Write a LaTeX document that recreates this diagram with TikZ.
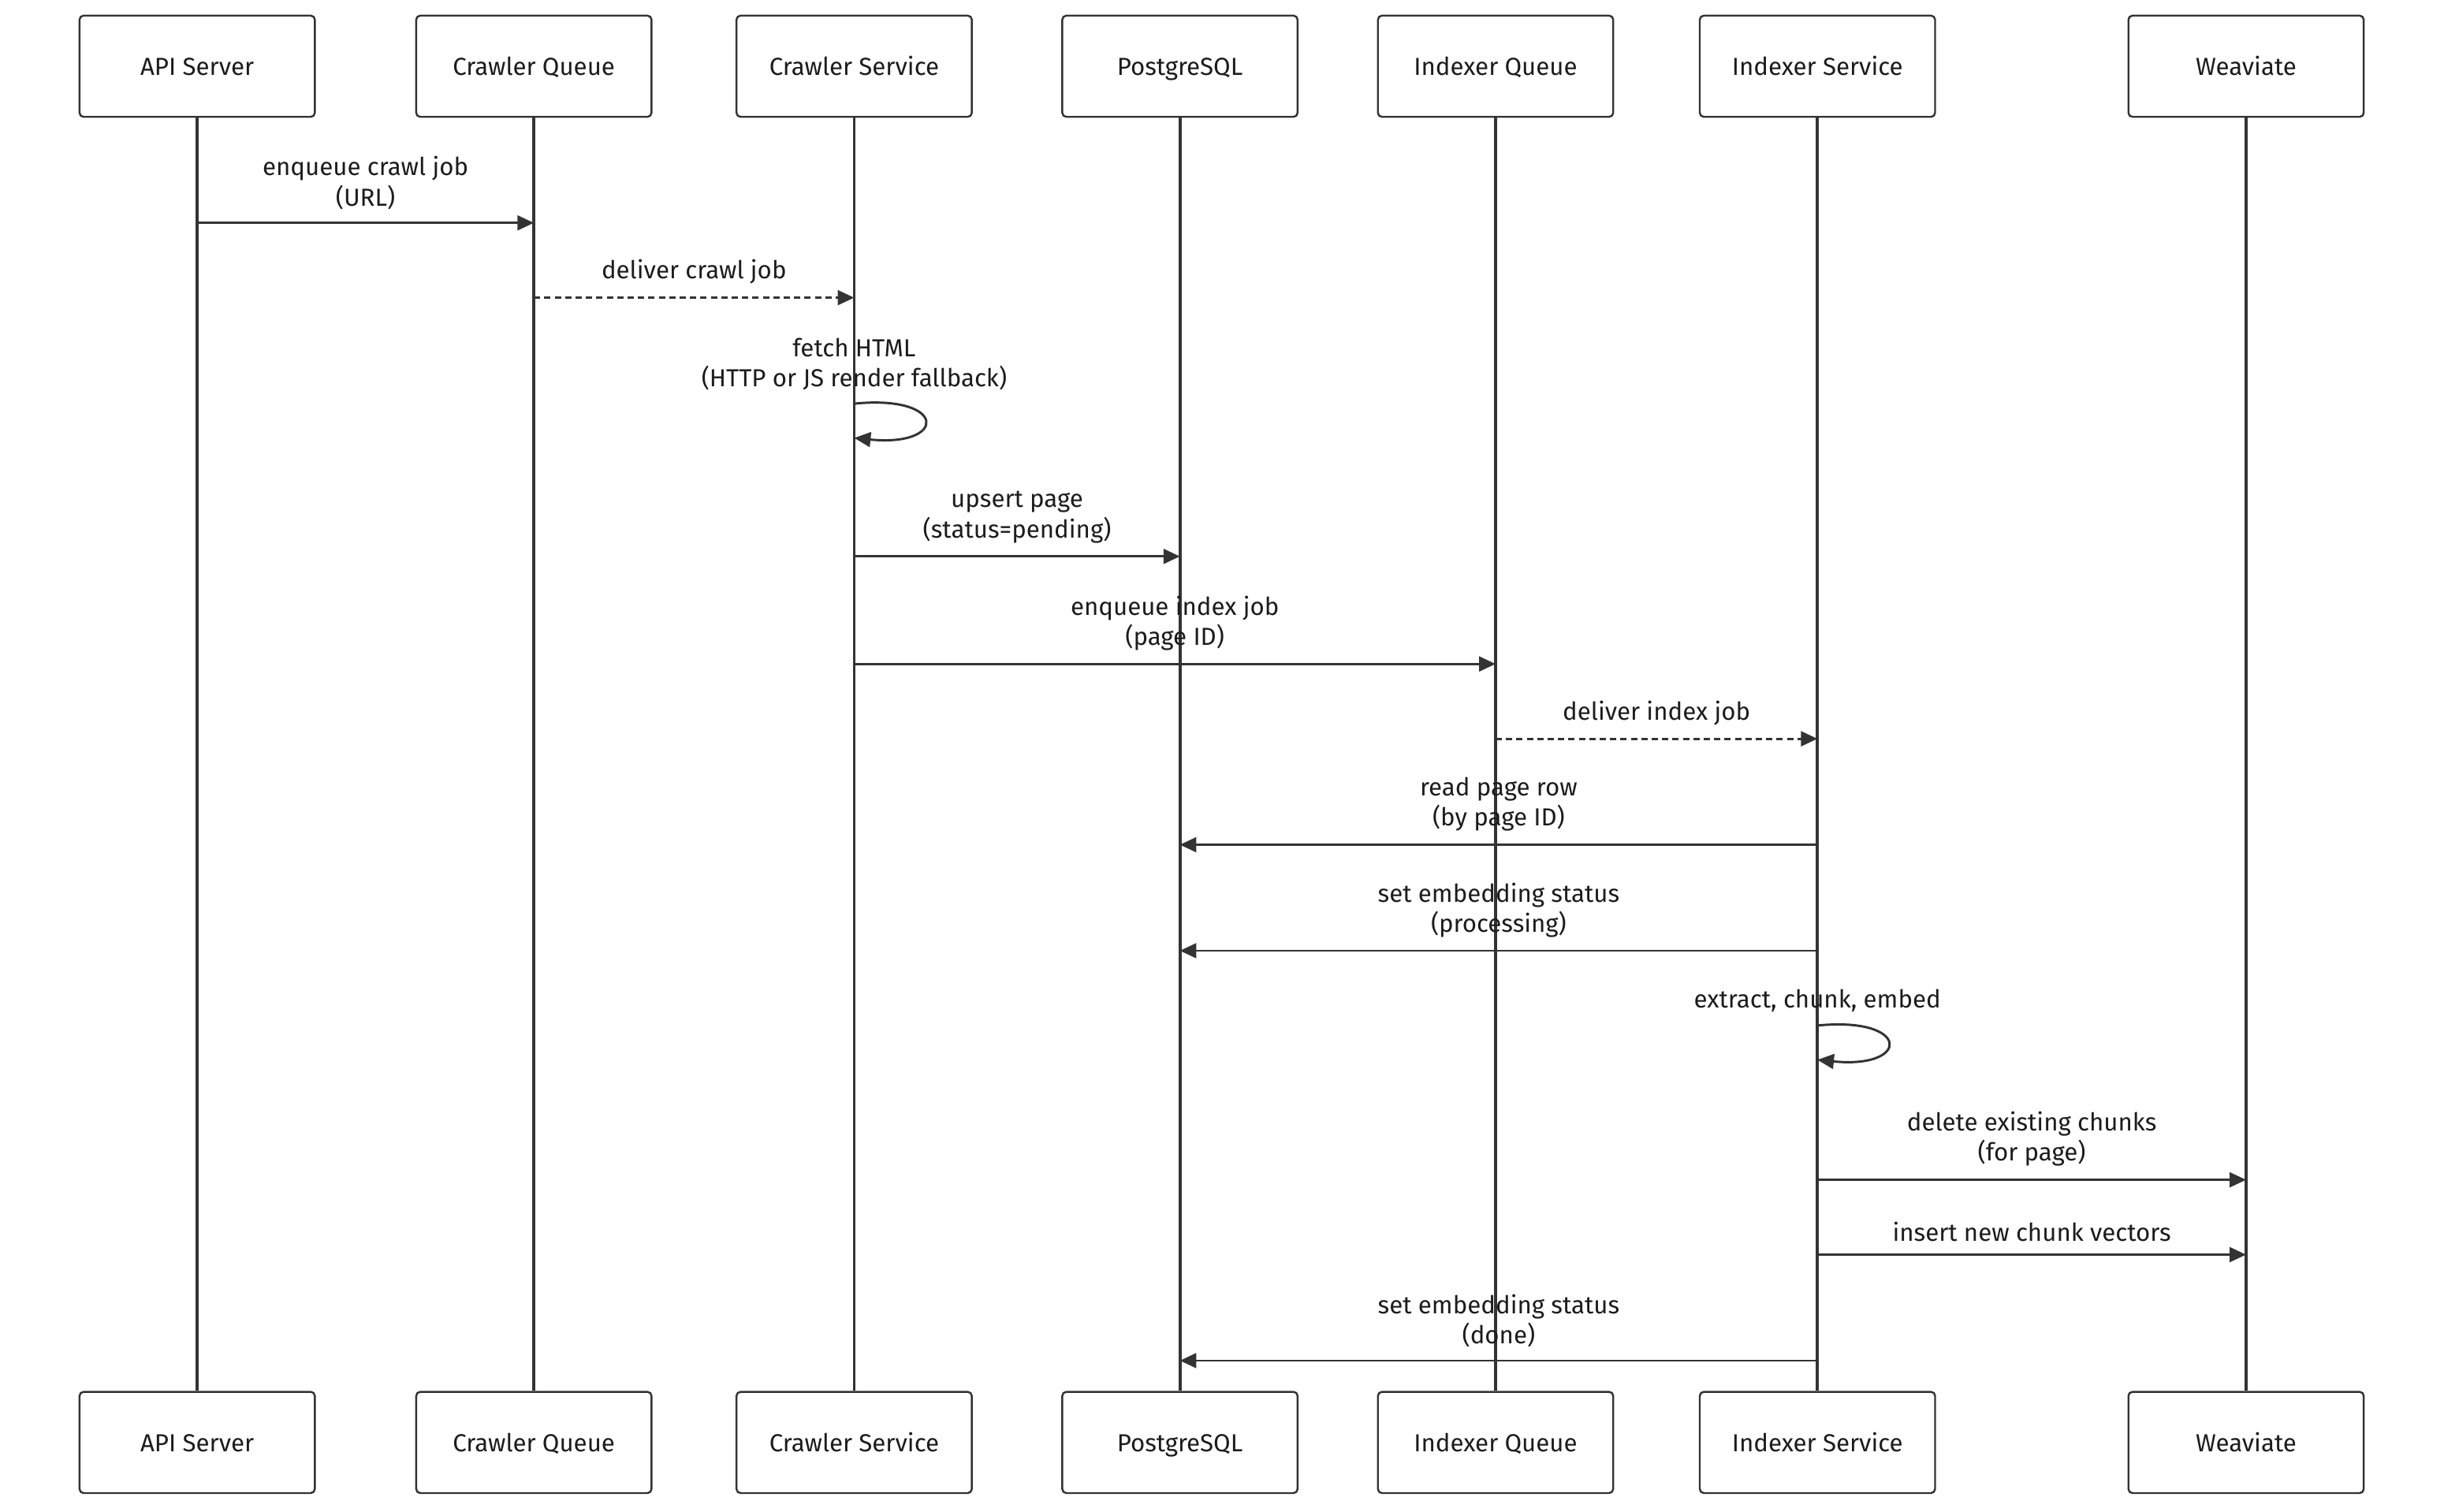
\documentclass[tikz,border=0pt]{standalone}
\usepackage{fontspec}
\setmainfont{Fira Sans}
\usepackage{xcolor}
\usepackage{tikz}
\usetikzlibrary{arrows.meta}
\definecolor{linegray}{HTML}{333333}
\definecolor{darktext}{HTML}{1C1C1C}
\tikzset{
  actor/.style={draw=linegray, fill=white, line width=0.7pt, rounded corners=1.5pt,
    minimum width=3.02cm, minimum height=1.3cm, text=darktext,
    text height=1.7ex, text depth=0.45ex},
  life/.style={draw=linegray, line width=1.1pt},
  msg/.style={draw=linegray, line width=0.85pt, -{Triangle[length=6pt,width=5.4pt]}},
  reply/.style={msg, dash pattern=on 2.3pt off 1.5pt},
  lbl/.style={above=4.5pt, inner sep=0pt, align=center, text=darktext}
}

\begin{document}
\begin{tikzpicture}[x=0.02cm,y=-0.02cm,font=\fontsize{9}{11}\selectfont]
  \useasboundingbox (0,0) rectangle (1568,970);
  % participants and lifelines
  \foreach \name/\xpos/\txt in {api/126.5/API Server, cq/342.5/Crawler Queue,
      cs/548/Crawler Service, pg/757/PostgreSQL, iq/959.5/Indexer Queue,
      is/1166/Indexer Service, wv/1441/Weaviate} {
    \node[actor] (\name T) at (\xpos,42.5) {\txt};
    \node[actor] (\name B) at (\xpos,925.5) {\txt};
    \draw[life] (\name T.south) -- (\name B.north);
  }
  % messages
  \draw[msg] (apiT |- 0,143) -- node[lbl] {enqueue crawl job\\(URL)} (cqT |- 0,143);
  \draw[reply] (cqT |- 0,191) -- node[lbl] {deliver crawl job} (csT |- 0,191);
  \draw[msg] (csT |- 0,259) .. controls +(60,-6) and +(60,6) .. (csT |- 0,281)
    node[lbl,pos=0] {fetch HTML\\(HTTP or JS render fallback)};
  \draw[msg] (csT |- 0,357) -- node[lbl] {upsert page\\(status=pending)} (pgT |- 0,357);
  \draw[msg] (csT |- 0,426) -- node[lbl] {enqueue index job\\(page ID)} (iqT |- 0,426);
  \draw[reply] (iqT |- 0,474) -- node[lbl] {deliver index job} (isT |- 0,474);
  \draw[msg] (isT |- 0,542) -- node[lbl] {read page row\\(by page ID)} (pgT |- 0,542);
  \draw[msg] (isT |- 0,610) -- node[lbl] {set embedding status\\(processing)} (pgT |- 0,610);
  \draw[msg] (isT |- 0,658) .. controls +(60,-6) and +(60,6) .. (isT |- 0,680)
    node[lbl,pos=0] {extract, chunk, embed};
  \draw[msg] (isT |- 0,757) -- node[lbl] {delete existing chunks\\(for page)} (wvT |- 0,757);
  \draw[msg] (isT |- 0,805) -- node[lbl] {insert new chunk vectors} (wvT |- 0,805);
  \draw[msg] (isT |- 0,873) -- node[lbl] {set embedding status\\(done)} (pgT |- 0,873);
\end{tikzpicture}
\end{document}
